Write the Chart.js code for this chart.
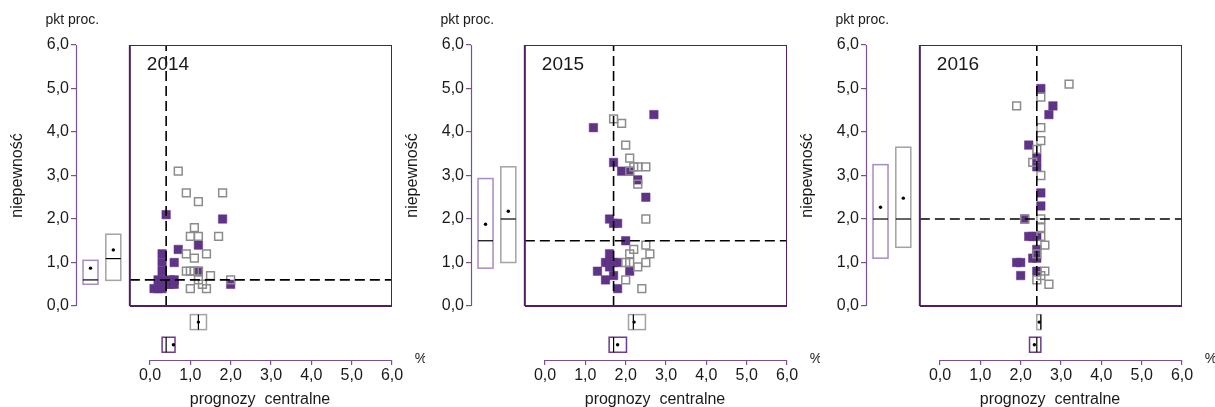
<!DOCTYPE html>
<html>
<head>
<meta charset="utf-8">
<script src="https://cdn.jsdelivr.net/npm/chart.js@4.4.1/dist/chart.umd.min.js"></script>
<style>
  html, body { margin: 0; padding: 0; background: #ffffff; }
  #wrap { position: relative; width: 1215px; height: 407px; overflow: hidden; background: #ffffff; }
  canvas { position: absolute; top: 0; }
</style>
</head>
<body>
<div id="wrap">
  <canvas id="c2014" width="425" height="407" style="left:0px"></canvas>
  <canvas id="c2015" width="425" height="407" style="left:395px"></canvas>
  <canvas id="c2016" width="425" height="407" style="left:790px"></canvas>
</div>
<script>
// ---------------- DATA ----------------
const YEARS = ['2014', '2015', '2016'];
const TICKS = [0, 1, 2, 3, 4, 5, 6];
const Y_UNIT = 'pkt proc.';
const X_UNIT = '%';
const Y_TITLE = 'niepewność';
const X_TITLE = 'prognozy  centralne';

// [central forecast, uncertainty] – filled (purple) and hollow (grey) squares
const filled2014 = [[0.1,0.4],[0.2,0.4],[0.3,0.4],[0.2,0.6],[0.3,0.5],[0.3,0.6],[0.4,0.5],[0.5,0.5],[0.5,0.6],[0.6,0.5],[0.6,0.6],[0.3,0.8],[0.3,1.0],[0.3,1.2],[0.4,2.1],[0.6,1.0],[0.7,1.3],[1.2,1.4],[1.2,0.8],[1.8,2.0],[2.0,0.5]];
const hollow2014 = [[0.7,3.1],[0.9,2.6],[1.8,2.6],[1.2,2.4],[1.1,1.8],[1.0,1.6],[1.2,1.6],[1.7,1.6],[0.9,1.2],[1.4,1.2],[1.1,1.1],[0.9,0.8],[1.0,0.8],[1.1,0.8],[1.2,0.8],[1.5,0.7],[1.2,0.6],[2.0,0.6],[1.3,0.5],[1.0,0.4],[1.4,0.4]];
const filled2015 = [[1.2,4.1],[2.7,4.4],[1.7,3.3],[1.9,3.1],[2.1,3.1],[2.3,2.9],[2.5,2.5],[1.6,2.0],[1.7,1.9],[1.8,1.9],[2.0,1.5],[1.6,1.2],[1.5,1.0],[1.6,1.0],[1.7,1.0],[1.8,1.0],[1.6,0.9],[1.3,0.8],[2.1,0.8],[1.7,0.7],[1.5,0.6],[1.8,0.4]];
const hollow2015 = [[1.7,4.3],[1.9,4.2],[2.0,3.7],[2.1,3.4],[2.2,3.2],[2.3,3.2],[2.5,3.2],[2.1,3.1],[2.3,2.8],[2.5,2.0],[2.5,1.4],[2.2,1.3],[2.1,1.2],[2.6,1.2],[2.0,1.0],[2.1,1.0],[2.5,1.0],[2.3,0.9],[2.0,0.6],[2.4,0.4]];
const filled2016 = [[2.5,5.0],[2.8,4.6],[2.7,4.4],[2.2,3.7],[2.4,3.4],[2.4,3.2],[2.5,2.6],[2.5,2.3],[2.1,2.0],[2.2,1.6],[2.3,1.6],[2.4,1.6],[2.4,1.3],[2.3,1.1],[2.4,1.1],[1.9,1.0],[2.0,1.0],[2.4,0.8],[2.0,0.7]];
const hollow2016 = [[3.2,5.1],[2.5,4.8],[1.9,4.6],[2.5,4.1],[2.5,3.8],[2.4,3.6],[2.3,3.3],[2.5,3.0],[2.1,2.0],[2.5,2.0],[2.5,1.8],[2.5,1.6],[2.6,1.4],[2.4,1.2],[2.6,0.8],[2.5,0.7],[2.4,0.6],[2.7,0.5]];

// median reference lines (dashed): central forecast, uncertainty
const medianX = [0.4, 1.7, 2.4];
const medianY = [0.6, 1.5, 2.0];

// box plots: [q1, median, q3, mean]
const uncFilled = [[0.5, 0.6, 1.05, 0.87], [0.87, 1.5, 2.93, 1.88], [1.1, 2.0, 3.25, 2.27]];
const uncHollow = [[0.59, 1.09, 1.65, 1.29], [1.0, 2.0, 3.2, 2.18], [1.35, 2.0, 3.65, 2.48]];
const cenFilled = [[0.3, 0.4, 0.62, 0.58], [1.59, 1.7, 2.02, 1.8], [2.22, 2.4, 2.5, 2.34]];
const cenHollow = [[1.0, 1.2, 1.4, 1.2], [2.07, 2.19, 2.49, 2.21], [2.4, 2.5, 2.5, 2.46]];

const FILLED = [filled2014, filled2015, filled2016];
const HOLLOW = [hollow2014, hollow2015, hollow2016];

// ---------------- STYLE / LAYOUT ----------------
const FONT = '"Liberation Sans", Arial, sans-serif';
const TEXT = '#1a1a1a';
const PURPLE = '#5f3386';
const GREY = '#8c8c8c';
const FRAME = '#4f1f5f';
const AXIS = '#7a5090';
const BOX_PURPLE_LIGHT = '#a78bc5';
const BOX_PURPLE_DARK = '#6a3c8c';
const BOX_GREY = '#a3a3a3';
const X_MIN = -1.835, X_MAX = 6;
const Y_MIN = -1.241, Y_MAX = 6;
const FRAME_LEFT = -0.5;
const UNC_BOX_POS = [-1.475, -0.91];   // x-positions (value space) of left box plots
const CEN_BOX_POS = [-0.89, -0.37];    // y-positions (value space) of bottom box plots
const BOX_HALF = 7.5;                  // px

const fmt = v => Number(v).toFixed(1).replace('.', ',');
const pts = arr => arr.map(p => ({x: p[0], y: p[1]}));

const extrasPlugin = {
  id: 'extras',
  afterDatasetsDraw(chart, args, opts) {
    const i = opts.index;
    const ctx = chart.ctx;
    const xs = chart.scales.x, ys = chart.scales.y;
    const px = v => xs.getPixelForValue(v);
    const py = v => ys.getPixelForValue(v);
    ctx.save();

    // detached axis lines
    ctx.strokeStyle = AXIS; ctx.lineWidth = 1.2;
    const ax = Math.round(px(X_MIN)) + 0.5;
    ctx.beginPath(); ctx.moveTo(ax, py(TICKS[0])); ctx.lineTo(ax, py(TICKS[TICKS.length-1])); ctx.stroke();
    const ay = Math.round(py(Y_MIN)) + 0.5;
    ctx.beginPath(); ctx.moveTo(px(TICKS[0]), ay); ctx.lineTo(px(TICKS[TICKS.length-1]), ay); ctx.stroke();

    // vertical box plots (uncertainty)
    const vbox = (stats, xv, color) => {
      const cx = px(xv);
      const t = py(stats[2]), b = py(stats[0]);
      ctx.strokeStyle = color; ctx.lineWidth = 1.5;
      ctx.strokeRect(cx - BOX_HALF, t, BOX_HALF * 2, b - t);
      ctx.strokeStyle = '#000'; ctx.lineWidth = 1.2;
      ctx.beginPath(); ctx.moveTo(cx - BOX_HALF, py(stats[1])); ctx.lineTo(cx + BOX_HALF, py(stats[1])); ctx.stroke();
      ctx.fillStyle = '#000';
      ctx.beginPath(); ctx.arc(cx, py(stats[3]), 1.7, 0, Math.PI * 2); ctx.fill();
    };
    vbox(uncFilled[i], UNC_BOX_POS[0], BOX_PURPLE_LIGHT);
    vbox(uncHollow[i], UNC_BOX_POS[1], BOX_GREY);

    // horizontal box plots (central forecasts)
    const hbox = (stats, yv, color) => {
      const cy = py(yv);
      const l = px(stats[0]), r = px(stats[2]);
      ctx.strokeStyle = color; ctx.lineWidth = 1.5;
      ctx.strokeRect(l, cy - BOX_HALF, r - l, BOX_HALF * 2);
      ctx.strokeStyle = '#000'; ctx.lineWidth = 1.2;
      ctx.beginPath(); ctx.moveTo(px(stats[1]), cy - BOX_HALF); ctx.lineTo(px(stats[1]), cy + BOX_HALF); ctx.stroke();
      ctx.fillStyle = '#000';
      ctx.beginPath(); ctx.arc(px(stats[3]), cy, 1.7, 0, Math.PI * 2); ctx.fill();
    };
    hbox(cenFilled[i], CEN_BOX_POS[0], BOX_PURPLE_DARK);
    hbox(cenHollow[i], CEN_BOX_POS[1], BOX_GREY);

    // texts
    ctx.fillStyle = TEXT;
    ctx.textBaseline = 'middle';
    ctx.textAlign = 'left';
    ctx.font = '14px ' + FONT;
    ctx.fillText(Y_UNIT, ax - 31, py(Y_MAX) - 25);
    ctx.textAlign = 'center';
    ctx.fillText(X_UNIT, px(X_MAX) + 29, ay - 1);
    ctx.textAlign = 'left';
    ctx.font = '19px ' + FONT;
    ctx.fillText(YEARS[i], px(FRAME_LEFT) + 17, py(Y_MAX) + 20);
    ctx.font = '16px ' + FONT;
    ctx.textAlign = 'center';
    ctx.textBaseline = 'alphabetic';
    ctx.fillText(X_TITLE, px(3) - 11, 404);
    ctx.save();
    ctx.translate(ax - 59, (py(0) + py(6)) / 2);
    ctx.rotate(-Math.PI / 2);
    ctx.textBaseline = 'middle';
    ctx.fillText(Y_TITLE, 0, 0);
    ctx.restore();
    ctx.restore();
  }
};

function axisOpts(isX) {
  return {
    type: 'linear',
    min: isX ? X_MIN : Y_MIN,
    max: isX ? X_MAX : Y_MAX,
    afterFit: s => { if (isX) s.height = 25; else s.width = 40; },
    afterBuildTicks: s => { s.ticks = TICKS.map(v => ({value: v})); },
    border: {display: false},
    grid: {drawOnChartArea: false, drawTicks: true, tickLength: 5, color: AXIS, lineWidth: 1.2},
    ticks: {
      padding: isX ? 1 : 2,
      autoSkip: false, maxRotation: 0,
      color: TEXT,
      font: {family: FONT, size: 16},
      callback: v => fmt(v)
    }
  };
}

YEARS.forEach((yr, i) => {
  const datasets = [
    // plot frame
    {data: pts([[FRAME_LEFT, 0], [X_MAX, 0], [X_MAX, 6], [FRAME_LEFT, 6], [FRAME_LEFT, 0]]),
     showLine: true, borderColor: FRAME, borderWidth: 2, pointRadius: 0, order: 0},
    // dashed median lines
    {data: pts([[medianX[i], 0], [medianX[i], 6]]), showLine: true, borderColor: '#000',
     borderWidth: 1.6, borderDash: [10, 5], pointRadius: 0, order: 1},
    {data: pts([[FRAME_LEFT, medianY[i]], [X_MAX, medianY[i]]]), showLine: true, borderColor: '#000',
     borderWidth: 1.6, borderDash: [10, 5], pointRadius: 0, order: 1},
    // hollow grey squares
    {data: pts(HOLLOW[i]), pointStyle: 'rect', pointRadius: 5.5, borderColor: GREY,
     borderWidth: 1.5, backgroundColor: 'rgba(0,0,0,0)', showLine: false, order: 2},
    // filled purple squares
    {data: pts(FILLED[i]), pointStyle: 'rect', pointRadius: 6, borderColor: PURPLE,
     borderWidth: 0.5, backgroundColor: PURPLE, showLine: false, order: 3}
  ];
  new Chart(document.getElementById('c' + yr), {
    type: 'scatter',
    data: {datasets},
    options: {
      responsive: false, animation: false, devicePixelRatio: 1, events: [],
      layout: {padding: {left: 36, right: 33, top: 45, bottom: 22}},
      plugins: {legend: {display: false}, tooltip: {enabled: false}, extras: {index: i}},
      scales: {x: axisOpts(true), y: axisOpts(false)}
    },
    plugins: [extrasPlugin]
  });
});
</script>
</body>
</html>
